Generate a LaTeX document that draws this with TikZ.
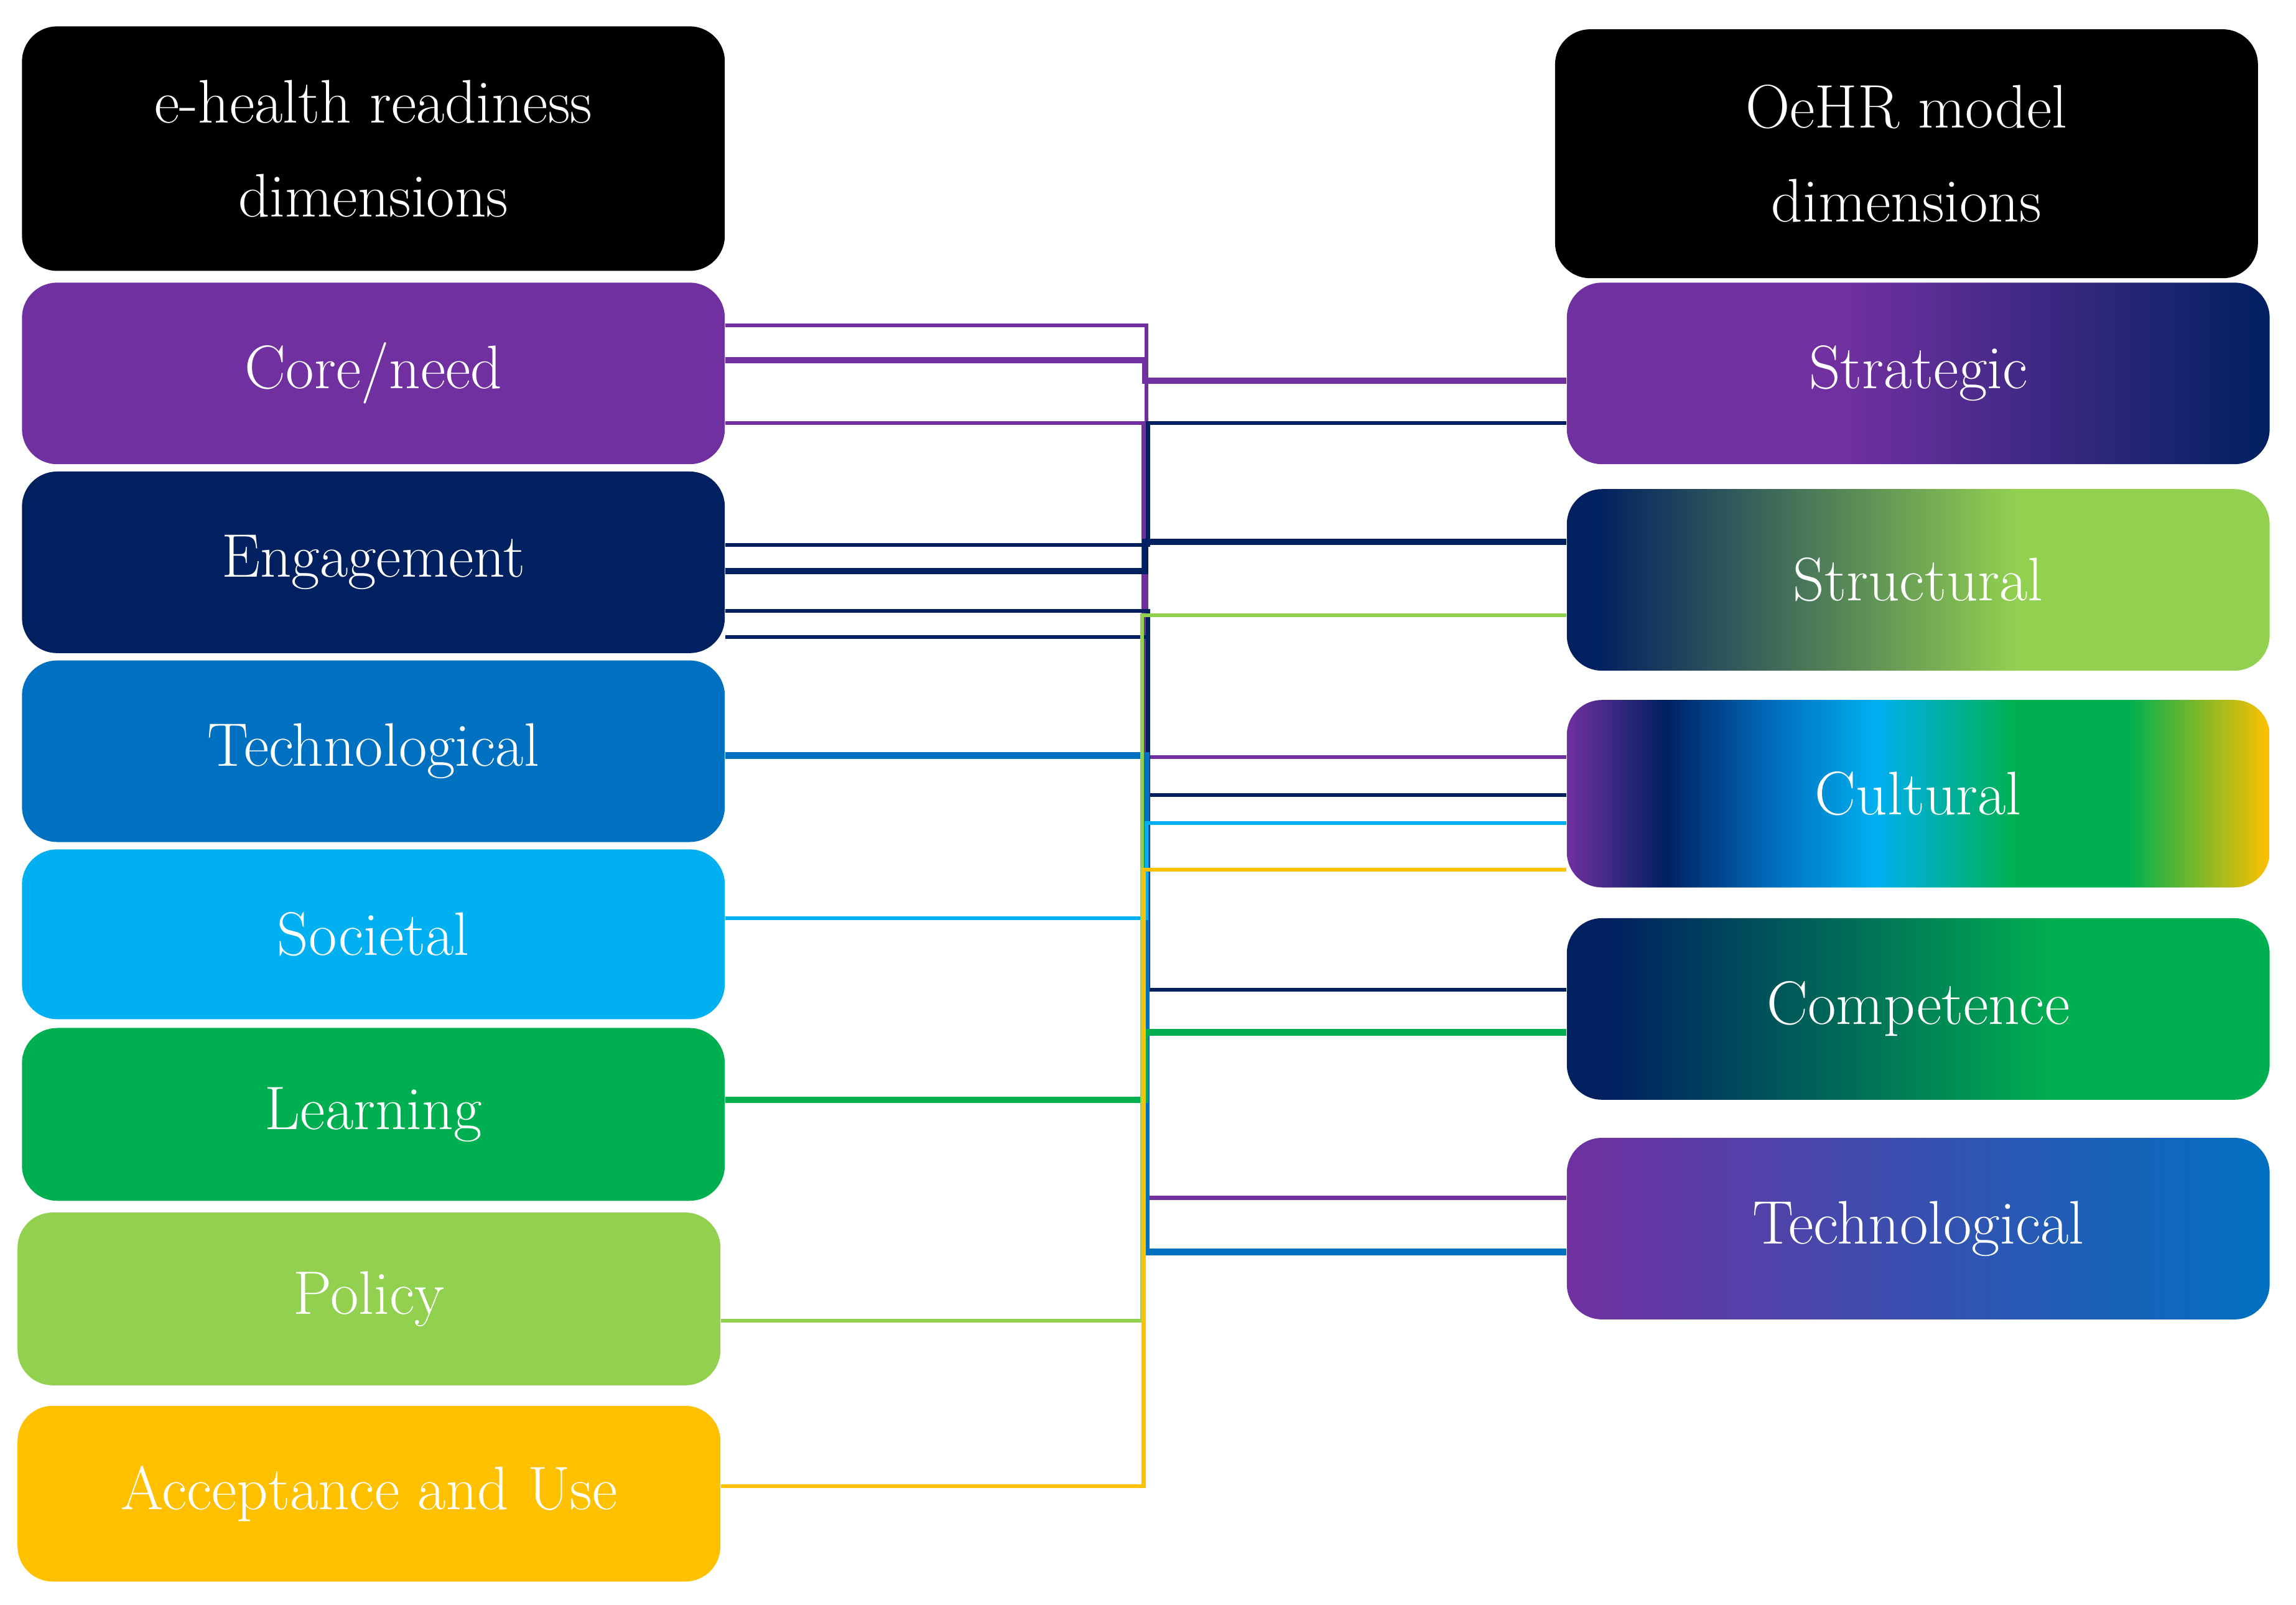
\documentclass[tikz,border=0pt]{standalone}
\usetikzlibrary{calc}
\definecolor{cpur}{HTML}{7030A0}
\definecolor{cnav}{HTML}{002060}
\definecolor{cblu}{HTML}{0070C0}
\definecolor{ccya}{HTML}{00B0F0}
\definecolor{cgre}{HTML}{00B050}
\definecolor{clgr}{HTML}{92D050}
\definecolor{cyel}{HTML}{FFC000}
\pgfdeclarehorizontalshading{shstrat}{100bp}{color(0bp)=(cpur); color(45bp)=(cpur); color(75bp)=(cnav); color(100bp)=(cnav)}
\pgfdeclarehorizontalshading{shstruc}{100bp}{color(0bp)=(cnav); color(27bp)=(cnav); color(57bp)=(clgr); color(100bp)=(clgr)}
\pgfdeclarehorizontalshading{shcult}{100bp}{color(0bp)=(cpur); color(25bp)=(cpur); color(32bp)=(cnav); color(40bp)=(cblu); color(47bp)=(ccya); color(57bp)=(cgre); color(65bp)=(cgre); color(75bp)=(cyel); color(100bp)=(cyel)}
\pgfdeclarehorizontalshading{shcomp}{100bp}{color(0bp)=(cnav); color(28bp)=(cnav); color(60bp)=(cgre); color(100bp)=(cgre)}
\pgfdeclarehorizontalshading{shtech}{100bp}{color(0bp)=(cpur); color(25bp)=(cpur); color(75bp)=(cblu); color(100bp)=(cblu)}
\begin{document}
\begin{tikzpicture}[x=0.5pt,y=-0.5pt,
  box/.style={rounded corners=12pt, text=white, align=center, inner sep=0pt,
    minimum width=240pt, font=\fontsize{21}{32}\selectfont},
  thin/.style={line width=1.3pt},
  thick/.style={line width=2.2pt}]
\useasboundingbox[fill=white] (0,0) rectangle (1568,1096);
% left
\node[box, fill=black, minimum height=83.5pt] (lh) at (255,101.5) {e-health readiness\\dimensions};
\node[box, fill=cpur, minimum height=62pt] (core) at (255,255) {Core/need};
\node[box, fill=cnav, minimum height=62pt] (eng) at (255,384) {Engagement};
\node[box, fill=cblu, minimum height=62pt] (tec) at (255,513) {Technological};
\node[box, fill=ccya, minimum height=58pt] (soc) at (255,638) {Societal};
\node[box, fill=cgre, minimum height=59pt] (lea) at (255,761) {Learning};
\node[box, fill=clgr, minimum height=59pt] (pol) at (252,887) {Policy};
\node[box, fill=cyel, minimum height=60pt] (acc) at (252,1020) {Acceptance and Use};
% right
\node[box, fill=black, minimum height=85pt] (rh) at (1302,105) {OeHR model\\dimensions};
\node[box, shading=shstrat, minimum height=62pt] (str) at (1310,255) {Strategic};
\node[box, shading=shstruc, minimum height=62pt] (stu) at (1310,396) {Structural};
\node[box, shading=shcult, minimum height=64pt] (cul) at (1310,542) {Cultural};
\node[box, shading=shcomp, minimum height=62pt] (com) at (1310,689) {Competence};
\node[box, shading=shtech, minimum height=62pt] (rte) at (1310,839) {Technological};
% connectors
\draw[cpur,thin] (core.east |- 0,222) -- (783,222) |- (rte.west |- 0,818);
\draw[cpur,thick] (core.east |- 0,246) -- (782,246) |- (str.west |- 0,260);
\draw[cpur,thin] (core.east |- 0,289) -- (781,289) |- (cul.west |- 0,517);
\draw[cnav,thin] (eng.east |- 0,372) -- (784,372) |- (str.west |- 0,289);
\draw[cnav,thick] (eng.east |- 0,390) -- (782,390) |- (stu.west |- 0,370);
\draw[cnav,thin] (eng.east |- 0,417) -- (784,417) |- (cul.west |- 0,543);
\draw[cnav,thin] (eng.east |- 0,435) -- (784,435) |- (com.west |- 0,676);
\draw[cblu,thick] (tec.east |- 0,516) -- (783,516) |- (rte.west |- 0,855);
\draw[ccya,thin] (soc.east |- 0,627) -- (783,627) |- (cul.west |- 0,562);
\draw[cgre,thick] (lea.east |- 0,751) -- (782,751) |- (com.west |- 0,705);
\draw[clgr,thin] (pol.east |- 0,902) -- (780,902) |- (stu.west |- 0,420);
\draw[cyel,thin] (acc.east |- 0,1015) -- (781,1015) |- (cul.west |- 0,594);
\end{tikzpicture}
\end{document}
